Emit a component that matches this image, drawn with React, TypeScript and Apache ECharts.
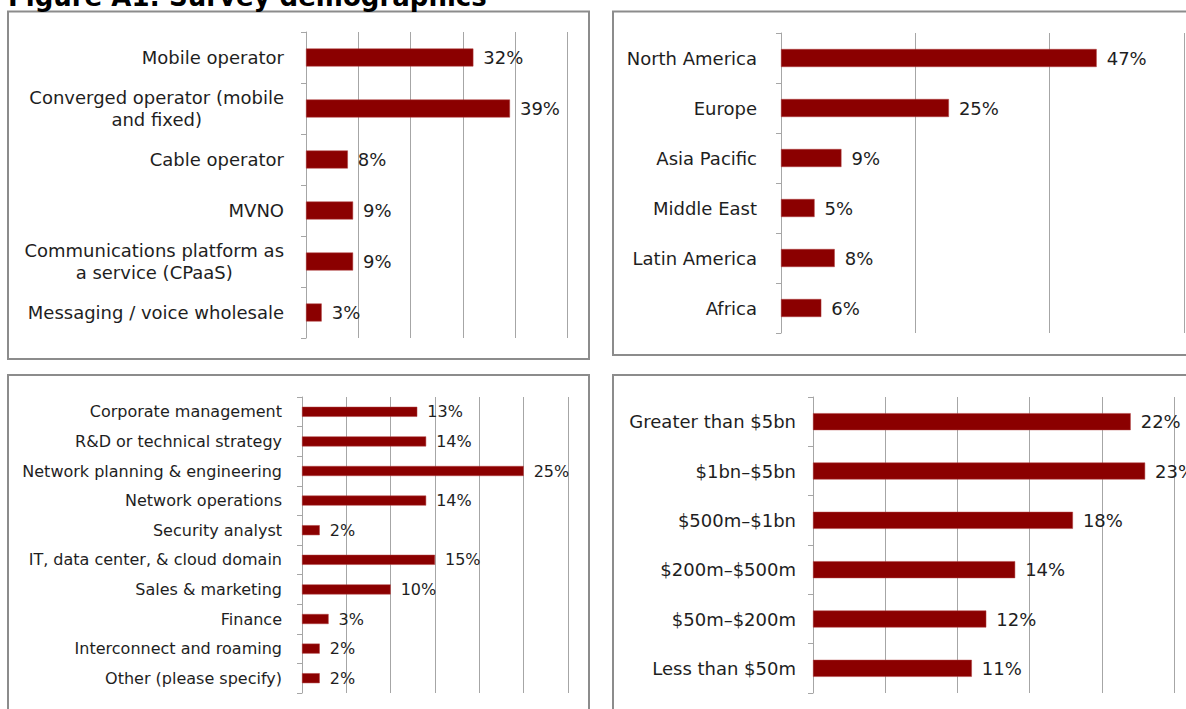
import React, { useEffect, useRef } from 'react';
import * as echarts from 'echarts';

const titleText = 'Figure A1: Survey demographics';

const typeCategories = [
  'Mobile operator',
  'Converged operator (mobile\nand fixed)',
  'Cable operator',
  'MVNO',
  'Communications platform as\na service (CPaaS)',
  'Messaging / voice wholesale',
];
const typeValues = [32, 39, 8, 9, 9, 3];

const regionCategories = ['North America', 'Europe', 'Asia Pacific', 'Middle East', 'Latin America', 'Africa'];
const regionValues = [47, 25, 9, 5, 8, 6];

const roleCategories = [
  'Corporate management',
  'R&D or technical strategy',
  'Network planning & engineering',
  'Network operations',
  'Security analyst',
  'IT, data center, & cloud domain',
  'Sales & marketing',
  'Finance',
  'Interconnect and roaming',
  'Other (please specify)',
];
const roleValues = [13, 14, 25, 14, 2, 15, 10, 3, 2, 2];

const revenueCategories = [
  'Greater than $5bn',
  '$1bn–$5bn',
  '$500m–$1bn',
  '$200m–$500m',
  '$50m–$200m',
  'Less than $50m',
];
const revenueValues = [22, 23, 18, 14, 12, 11];

const axisMax = [50, 60, 30, 25];
const axisInterval = [10, 20, 5, 5];

const FONT = 'DejaVu Sans';
const BAR = '#8b0000';
const GRID_COLOR = '#a6a6a6';
const TEXT = '#1e1e1e';

export default function App() {
  const ref = useRef<HTMLDivElement>(null);

  useEffect(() => {
    if (!ref.current) return;
    const chart = echarts.init(ref.current, undefined, { renderer: 'svg' });

    const panels = [
      { cats: typeCategories, vals: typeValues, grid: { left: 306, top: 32, width: 261.5, height: 306 }, fs: 18, bw: 18, margin: 22 },
      { cats: regionCategories, vals: regionValues, grid: { left: 781, top: 33, width: 403, height: 300 }, fs: 18, bw: 18, margin: 24 },
      { cats: roleCategories, vals: roleValues, grid: { left: 302, top: 397, width: 266, height: 296 }, fs: 16, bw: 10, margin: 20 },
      { cats: revenueCategories, vals: revenueValues, grid: { left: 813, top: 397, width: 361, height: 296 }, fs: 18, bw: 17, margin: 17 },
    ];

    const option: any = {
      animation: false,
      grid: panels.map((p) => ({ ...p.grid, containLabel: false })),
      xAxis: panels.map((p, i) => ({
        type: 'value',
        gridIndex: i,
        min: 0,
        max: axisMax[i],
        interval: axisInterval[i],
        axisLabel: { show: false },
        axisLine: { show: false },
        axisTick: { show: false },
        splitLine: { show: true, lineStyle: { color: GRID_COLOR, width: 1 } },
      })),
      yAxis: panels.map((p, i) => ({
        type: 'category',
        gridIndex: i,
        inverse: true,
        data: p.cats,
        axisLine: { show: true, lineStyle: { color: GRID_COLOR, width: 1 } },
        axisTick: { show: true, length: 5, lineStyle: { color: GRID_COLOR } },
        axisLabel: {
          interval: 0,
          margin: p.margin,
          color: TEXT,
          fontFamily: FONT,
          fontSize: p.fs,
          formatter: (v: string) => v.split('\n').map((l) => '{c|' + l + '}').join('\n'),
          rich: {
            c: { align: 'center', fontFamily: FONT, fontSize: p.fs, color: TEXT, lineHeight: 22 },
          },
        },
      })),
      series: panels.map((p, i) => ({
        type: 'bar',
        xAxisIndex: i,
        yAxisIndex: i,
        data: p.vals,
        barWidth: p.bw,
        itemStyle: { color: BAR, borderColor: '#b04040', borderWidth: 0.5 },
        label: {
          show: true,
          position: 'right',
          distance: 10,
          formatter: '{c}%',
          fontFamily: FONT,
          fontSize: p.fs,
          color: TEXT,
        },
      })),
      graphic: [
        { type: 'rect', z: -1, shape: { x: 8, y: 11.5, width: 581, height: 347.5 }, style: { fill: 'none', stroke: '#8c8c8c', lineWidth: 2 } },
        { type: 'rect', z: -1, shape: { x: 613, y: 11.5, width: 600, height: 343.5 }, style: { fill: 'none', stroke: '#8c8c8c', lineWidth: 2 } },
        { type: 'rect', z: -1, shape: { x: 8, y: 375, width: 581, height: 400 }, style: { fill: 'none', stroke: '#8c8c8c', lineWidth: 2 } },
        { type: 'rect', z: -1, shape: { x: 613, y: 375, width: 600, height: 400 }, style: { fill: 'none', stroke: '#8c8c8c', lineWidth: 2 } },
        {
          type: 'text',
          x: 8,
          y: -3,
          style: {
            text: titleText,
            fontFamily: FONT,
            fontWeight: 'bold',
            fontSize: 26,
            fill: '#000',
            textVerticalAlign: 'middle',
            verticalAlign: 'middle',
          },
        },
      ],
    };

    chart.setOption(option);
    return () => chart.dispose();
  }, []);

  return <div ref={ref} style={{ position: 'absolute', left: 0, top: 0, width: 1186, height: 709 }} />;
}
